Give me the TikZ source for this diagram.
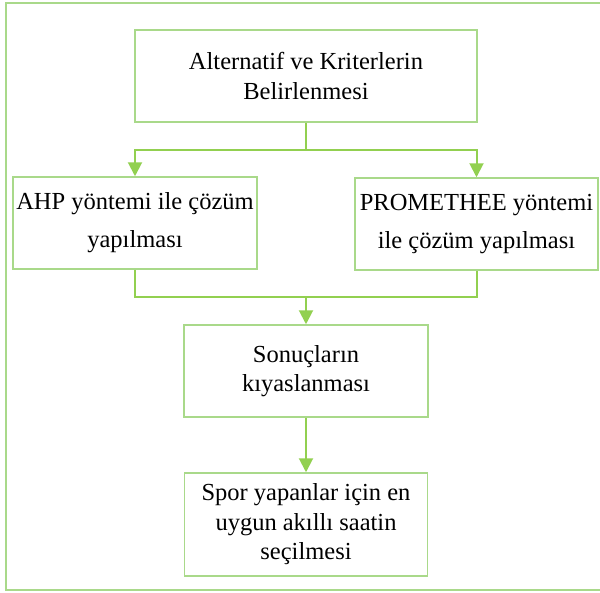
\documentclass[tikz,border=0pt]{standalone}
\usepackage{fontspec}
\setmainfont{Liberation Serif}
\usetikzlibrary{arrows.meta, positioning, calc}
\definecolor{yesil}{HTML}{92D050}
\definecolor{acikyesil}{HTML}{A9D98A}
\tikzset{
  ok/.style={-{Triangle[length=14pt,width=14pt]}, line width=2pt, yesil},
  cizgi/.style={line width=2pt, yesil}
}

\begin{document}
\begin{tikzpicture}[x=1pt, y=-1pt,
    kutu/.style={rectangle, draw=acikyesil, line width=1.5pt, inner sep=0pt,
                 align=center, font=\fontsize{24.5}{29.5}\selectfont},
    genis/.style={font=\fontsize{24.5}{38}\selectfont}]
    \useasboundingbox (0,0) rectangle (600,592);
    % cerceve
    \draw[acikyesil, line width=1.5pt] (601,3) -- (6,3) -- (6,590) -- (601,590);
    \node[kutu, minimum width=342pt, minimum height=92pt] (alt) at (306,76)
      {Alternatif ve Kriterlerin\\Belirlenmesi};
    \node[kutu, genis, minimum width=244pt, minimum height=92pt] (ahp) at (135,223)
      {AHP yöntemi ile çözüm\\yapılması};
    \node[kutu, genis, minimum width=243pt, minimum height=92pt] (prom) at (476.5,224)
      {PROMETHEE yöntemi\\ile çözüm yapılması};
    \node[kutu, minimum width=244pt, minimum height=92pt] (son) at (306,371)
      {Sonuçların\\kıyaslanması};
    \node[kutu, minimum width=243pt, minimum height=103pt] (spor) at (306,524.5)
      {Spor yapanlar için en\\uygun akıllı saatin\\seçilmesi};
    \coordinate (ayrim) at (306,150);
    \coordinate (birles) at (306,297);
    \draw[cizgi] (alt.south) -- (ayrim);
    \draw[ok] (ayrim) -| (ahp.north);
    \draw[ok] (ayrim) -| (prom.north);
    \draw[cizgi] (ahp.south) |- (birles);
    \draw[cizgi] (prom.south) |- (birles);
    \draw[ok] (birles) -- (son.north);
    \draw[ok] (son) -- (spor);
\end{tikzpicture}
\end{document}
